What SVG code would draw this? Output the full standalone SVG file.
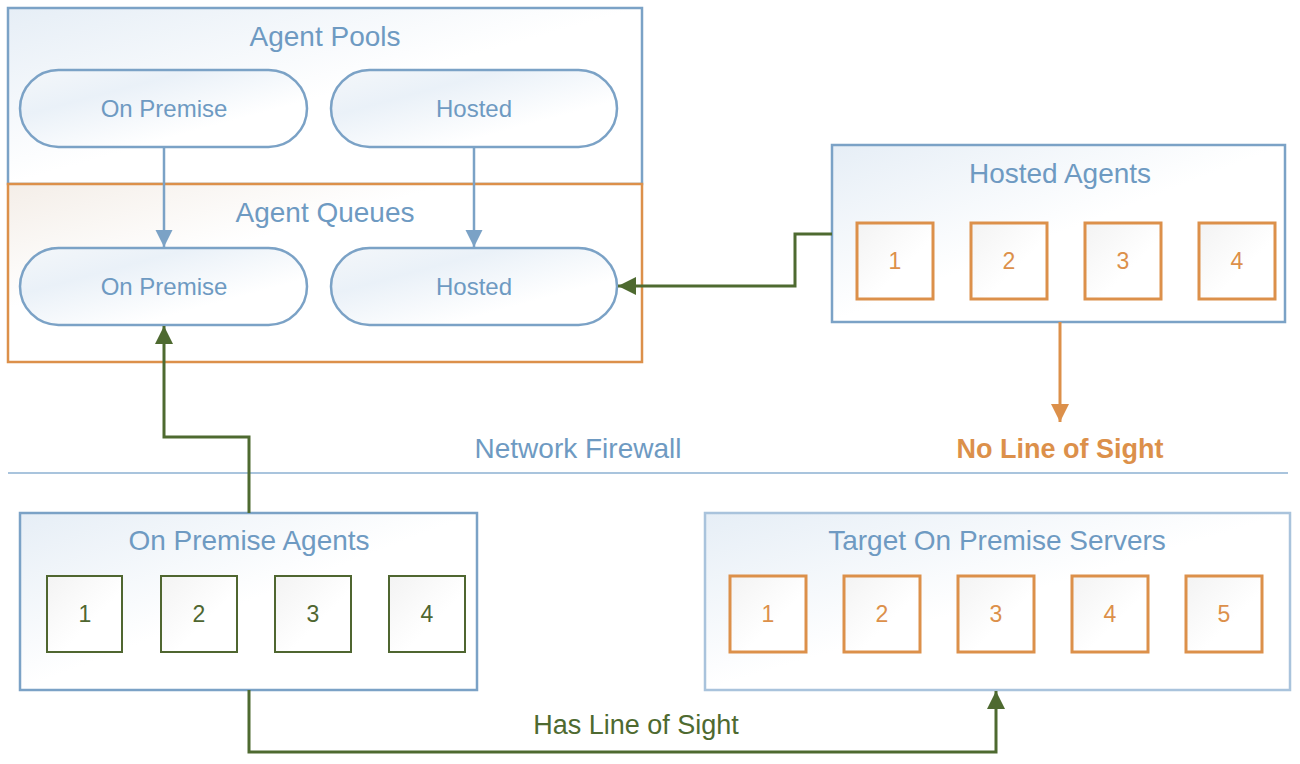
<svg xmlns="http://www.w3.org/2000/svg" width="1300" height="764" viewBox="0 0 1300 764">
<style>
text{font-family:"Liberation Sans","Open Sans",sans-serif;text-anchor:middle}
.title{font-size:28px;fill:#6E9AC2}
.pill{fill:url(#gp);stroke:#7BA2C6;stroke-width:2.5}
.pt{font-size:24px;fill:#6E9AC2}
.box{fill:url(#gb);stroke:#7BA2C6;stroke-width:2.5}
.boxl{fill:url(#gb);stroke:#A9C3DC;stroke-width:2.5}
.sqo{fill:url(#gs);stroke:#DC904A;stroke-width:3}
.sqg{fill:url(#gs);stroke:#4F6630;stroke-width:2}
.no{font-size:23px;fill:#DC904A}
.ng{font-size:23px;fill:#4F6630}
.gl{fill:none;stroke:#4E6A30;stroke-width:3}
.bl{fill:none;stroke:#7BA2C6;stroke-width:2.5}
.ol{fill:none;stroke:#DC904A;stroke-width:3}
</style>
<defs>
<linearGradient id="gb" x1="0" y1="0" x2="1" y2="1"><stop offset="0" stop-color="#E6EEF6"/><stop offset="0.5" stop-color="#FFFFFF"/></linearGradient>
<linearGradient id="gp" x1="0" y1="0" x2="1" y2="1"><stop offset="0" stop-color="#F4F7FA"/><stop offset="0.3" stop-color="#EAF1F8"/><stop offset="0.7" stop-color="#FFFFFF"/></linearGradient>
<linearGradient id="gs" x1="0" y1="0" x2="1" y2="1"><stop offset="0" stop-color="#F3F3F3"/><stop offset="0.6" stop-color="#FFFFFF"/></linearGradient>
<linearGradient id="gq" x1="0" y1="0" x2="1" y2="1"><stop offset="0" stop-color="#F4EEE8"/><stop offset="0.35" stop-color="#FFFFFF"/></linearGradient>
<marker id="ag" viewBox="0 0 10 10" refX="10" refY="5" markerWidth="6" markerHeight="6" orient="auto" markerUnits="strokeWidth"><path d="M0,0 L10,5 L0,10 Z" fill="#4E6A30"/></marker>
<marker id="ab" viewBox="0 0 10 10" refX="10" refY="5" markerWidth="7" markerHeight="7" orient="auto" markerUnits="strokeWidth"><path d="M0,0 L10,5 L0,10 Z" fill="#7BA2C6"/></marker>
<marker id="ao" viewBox="0 0 10 10" refX="10" refY="5" markerWidth="6" markerHeight="6" orient="auto" markerUnits="strokeWidth"><path d="M0,0 L10,5 L0,10 Z" fill="#DC904A"/></marker>
</defs>

<g id="agent-pools">
<rect x="8" y="8" width="634" height="176" class="box"/>
<text x="325" y="46" class="title">Agent Pools</text>
</g>
<g id="agent-queues">
<rect x="8" y="184" width="634" height="178" fill="url(#gq)" stroke="#DC904A" stroke-width="2.5"/>
<text x="325" y="222" class="title">Agent Queues</text>
</g>
<g id="pool-onprem">
<rect x="20" y="70" width="287" height="77" rx="38.5" class="pill"/>
<text x="164" y="117" class="pt">On Premise</text>
</g>
<g id="pool-hosted">
<rect x="331" y="70" width="286" height="77" rx="38.5" class="pill"/>
<text x="474" y="117" class="pt">Hosted</text>
</g>
<g id="queue-onprem">
<rect x="20" y="248" width="287" height="77" rx="38.5" class="pill"/>
<text x="164" y="295" class="pt">On Premise</text>
</g>
<g id="queue-hosted">
<rect x="331" y="248" width="286" height="77" rx="38.5" class="pill"/>
<text x="474" y="295" class="pt">Hosted</text>
</g>

<g id="hosted-agents">
<rect x="832" y="145" width="453" height="177" class="box"/>
<text x="1060" y="183" class="title">Hosted Agents</text>
<rect x="857" y="223" width="76" height="76" class="sqo"/><text x="895" y="269" class="no">1</text>
<rect x="971" y="223" width="76" height="76" class="sqo"/><text x="1009" y="269" class="no">2</text>
<rect x="1085" y="223" width="76" height="76" class="sqo"/><text x="1123" y="269" class="no">3</text>
<rect x="1199" y="223" width="76" height="76" class="sqo"/><text x="1237" y="269" class="no">4</text>
</g>

<g id="firewall">
<line x1="8" y1="473" x2="1288" y2="473" stroke="#8DB0D2" stroke-width="1.5"/>
<text x="578" y="458" class="title">Network Firewall</text>
</g>

<g id="onprem-agents">
<rect x="20" y="513" width="457" height="177" class="box"/>
<text x="249" y="550" class="title">On Premise Agents</text>
<rect x="47" y="576" width="75" height="76" class="sqg"/><text x="85" y="622" class="ng">1</text>
<rect x="161" y="576" width="76" height="76" class="sqg"/><text x="199" y="622" class="ng">2</text>
<rect x="275" y="576" width="76" height="76" class="sqg"/><text x="313" y="622" class="ng">3</text>
<rect x="389" y="576" width="76" height="76" class="sqg"/><text x="427" y="622" class="ng">4</text>
</g>

<g id="target-servers">
<rect x="705" y="513" width="585" height="177" class="boxl"/>
<text x="997" y="550" class="title">Target On Premise Servers</text>
<rect x="730" y="576" width="76" height="76" class="sqo"/><text x="768" y="622" class="no">1</text>
<rect x="844" y="576" width="76" height="76" class="sqo"/><text x="882" y="622" class="no">2</text>
<rect x="958" y="576" width="76" height="76" class="sqo"/><text x="996" y="622" class="no">3</text>
<rect x="1072" y="576" width="76" height="76" class="sqo"/><text x="1110" y="622" class="no">4</text>
<rect x="1186" y="576" width="76" height="76" class="sqo"/><text x="1224" y="622" class="no">5</text>
</g>

<g id="connectors">
<path d="M164,147 V247" class="bl" marker-end="url(#ab)"/>
<path d="M474,147 V247" class="bl" marker-end="url(#ab)"/>
<path d="M832,234 H795 V286 H618" class="gl" marker-end="url(#ag)"/>
<path d="M249,513 V437 H164 V326" class="gl" marker-end="url(#ag)"/>
<path d="M249,690 V752 H996 V691" class="gl" marker-end="url(#ag)"/>
<path d="M1060,322 V422" class="ol" marker-end="url(#ao)"/>
<text x="1060" y="458" font-size="27" font-weight="bold" fill="#DC904A">No Line of Sight</text>
<text x="636" y="734" font-size="27" fill="#4E6A30">Has Line of Sight</text>
</g>
</svg>
